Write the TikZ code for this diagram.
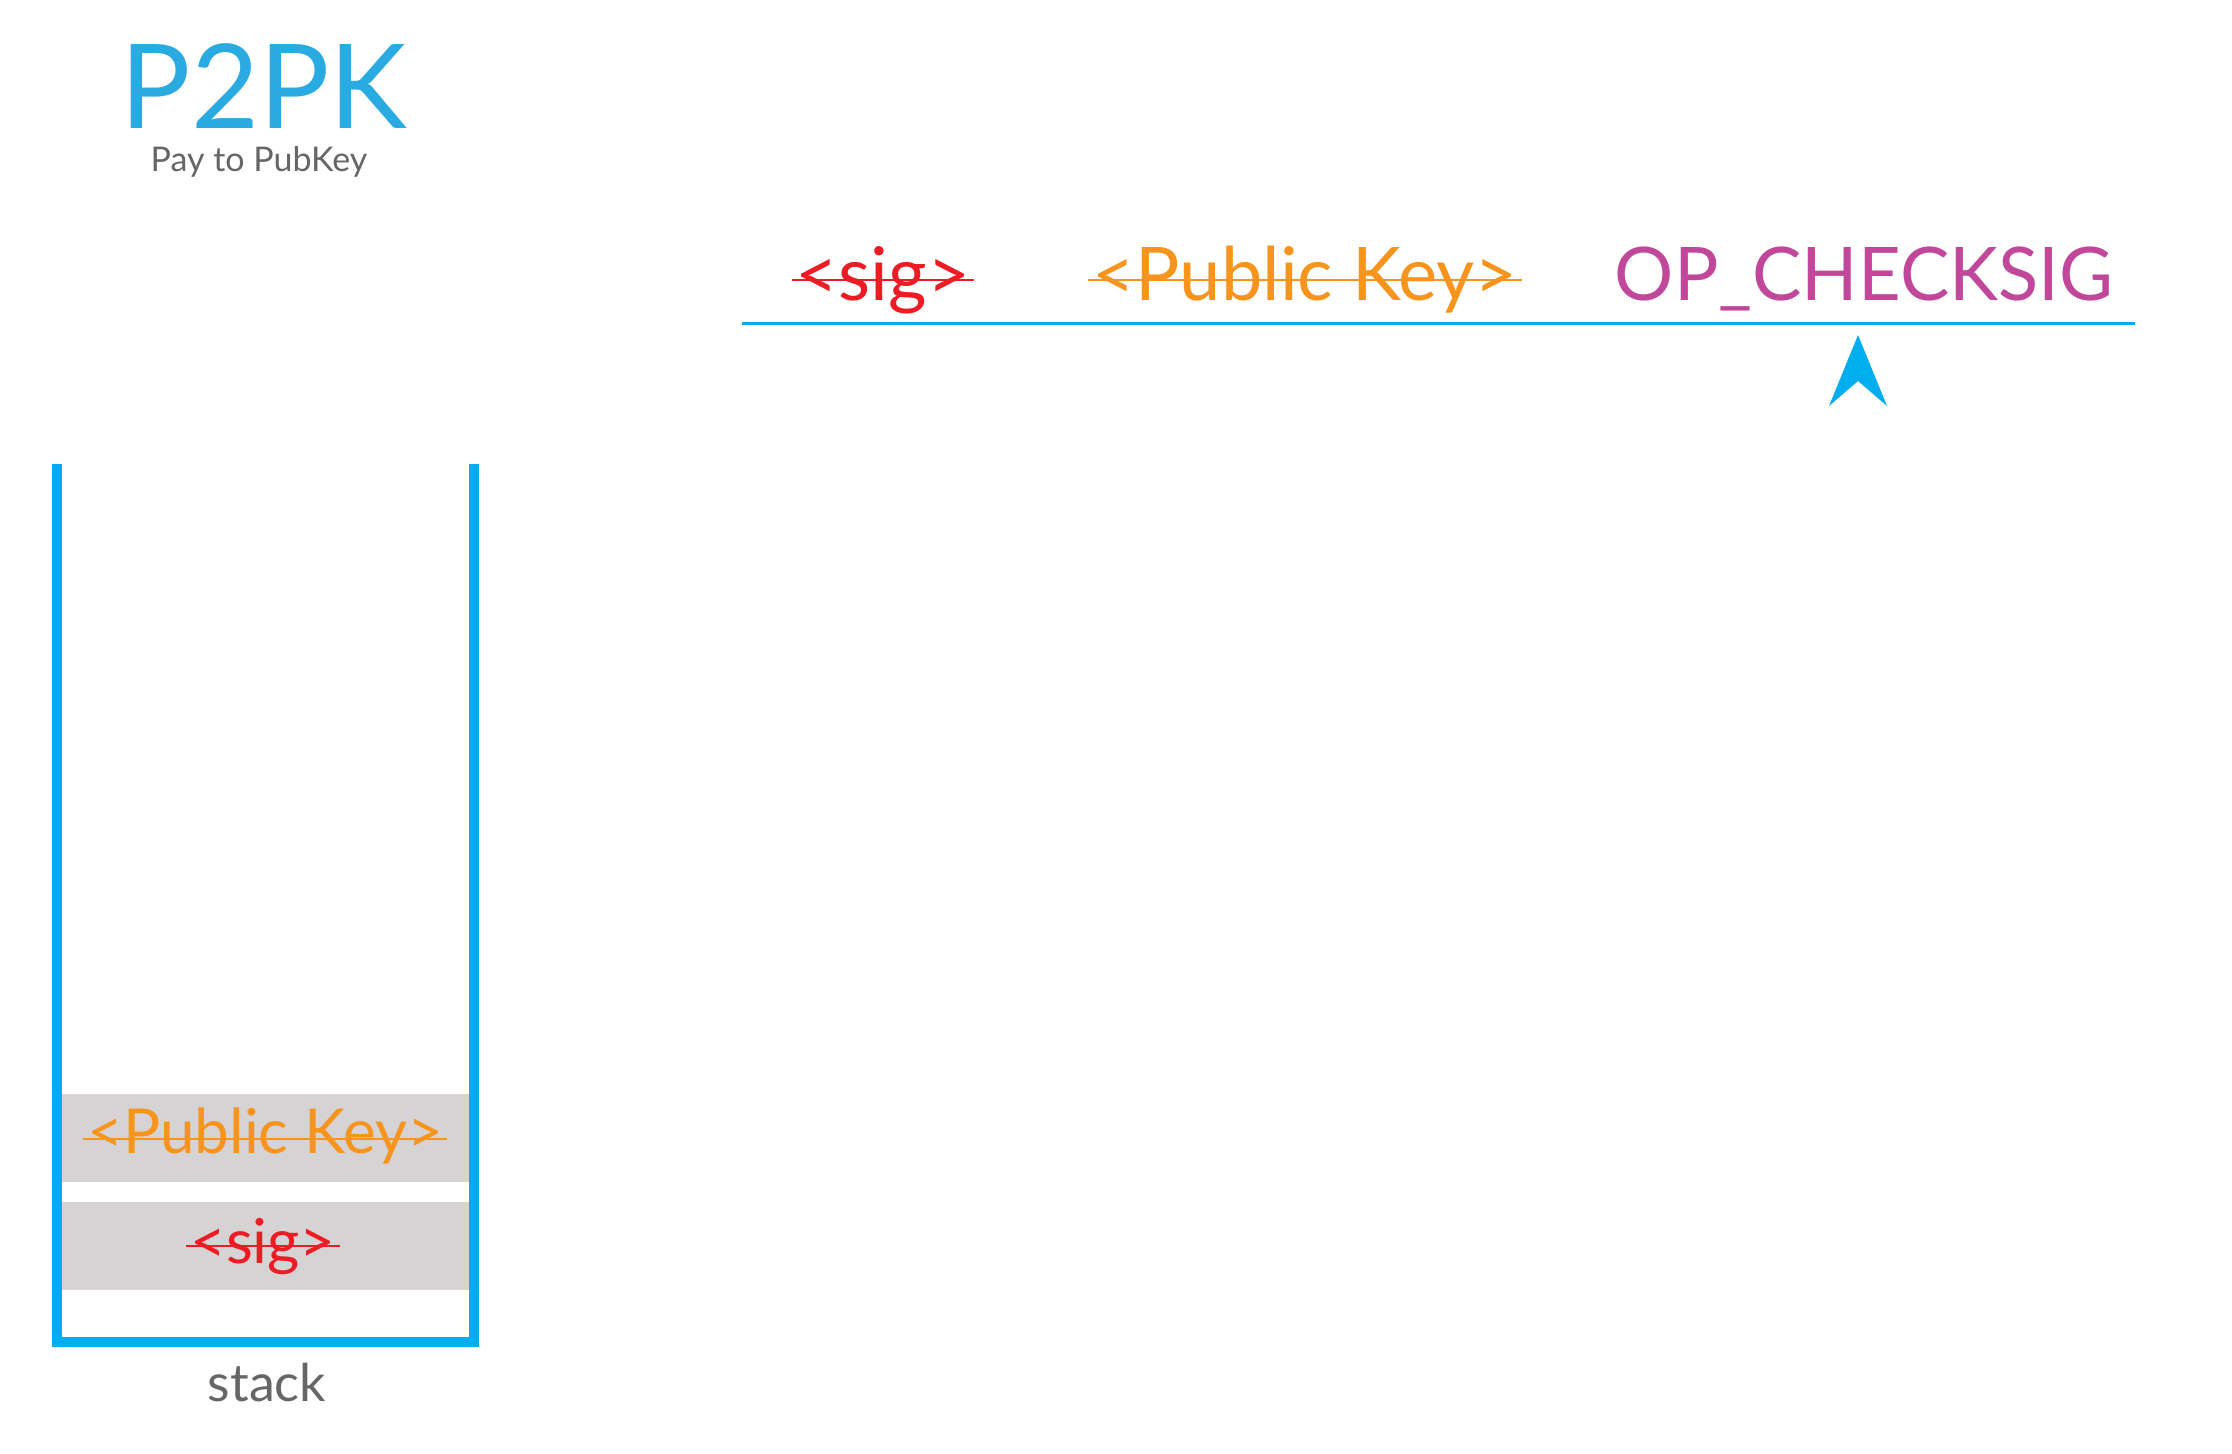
\documentclass[tikz,border=0pt]{standalone}
\usepackage{fontspec}
\setmainfont{Lato}
\definecolor{titleblue}{HTML}{29ABE2}
\definecolor{lineblue}{HTML}{00AEEF}
\definecolor{sigred}{HTML}{ED1C24}
\definecolor{keyorange}{HTML}{F7941D}
\definecolor{oppurple}{HTML}{C1479B}
\definecolor{txtgray}{HTML}{666666}
\definecolor{boxgray}{HTML}{D5D3D4}
\begin{document}
\begin{tikzpicture}[x=0.5pt,y=-0.5pt,
  lbl/.style={inner sep=0pt,anchor=base},
  topfont/.style={font=\fontsize{37}{42}\selectfont},
  stkfont/.style={font=\fontsize{31}{36}\selectfont},
  strikeline/.style={line width=1.4pt}]
\useasboundingbox (0,0) rectangle (2232,1453);
% title
\node[lbl,text=titleblue,font=\fontsize{58.6}{64}\selectfont] (title) at (264,128) {P2PK};
\node[lbl,text=txtgray,font=\fontsize{17}{20}\selectfont] (subtitle) at (259,171) {Pay to PubKey};
% script line
\coordinate (lineL) at (742,323);
\coordinate (lineR) at (2135,323);
\draw[lineblue,line width=1.5pt] (lineL) -- (lineR);
\node[lbl,topfont,text=sigred] (tsig) at (883,300) {<sig>};
\node[lbl,topfont,text=keyorange] (tkey) at (1305,300) {<Public Key>};
\node[lbl,topfont,text=oppurple] (top) at (1864,300) {OP\_CHECKSIG};
\draw[sigred,strikeline] ([xshift=-2pt,yshift=10pt]tsig.base west) -- ([xshift=2pt,yshift=10pt]tsig.base east);
\draw[keyorange,strikeline] ([xshift=-2pt,yshift=10pt]tkey.base west) -- ([xshift=2pt,yshift=10pt]tkey.base east);
% pointer arrow
\coordinate (ptip) at (1858,335);
\fill[lineblue] (ptip) -- (1887,406) -- (1858,381) -- (1829,406) -- cycle;
% stack
\coordinate (stTL) at (57,464);
\coordinate (stTR) at (474,464);
\fill[boxgray] (62,1094) rectangle (469,1182);
\fill[boxgray] (62,1202) rectangle (469,1290);
\draw[lineblue,line width=5pt] (stTL) -- (57,1342) -- (474,1342) -- (stTR);
\node[lbl,stkfont,text=keyorange] (skey) at (265,1153) {<Public Key>};
\node[lbl,stkfont,text=sigred] (ssig) at (263,1263) {<sig>};
\draw[keyorange,strikeline] ([xshift=-2pt,yshift=7pt]skey.base west) -- ([xshift=2pt,yshift=7pt]skey.base east);
\draw[sigred,strikeline] ([xshift=-2pt,yshift=8.5pt]ssig.base west) -- ([xshift=2pt,yshift=8.5pt]ssig.base east);
\node[lbl,text=txtgray,font=\fontsize{26}{30}\selectfont] (stacklbl) at (267,1401) {stack};
\end{tikzpicture}
\end{document}
